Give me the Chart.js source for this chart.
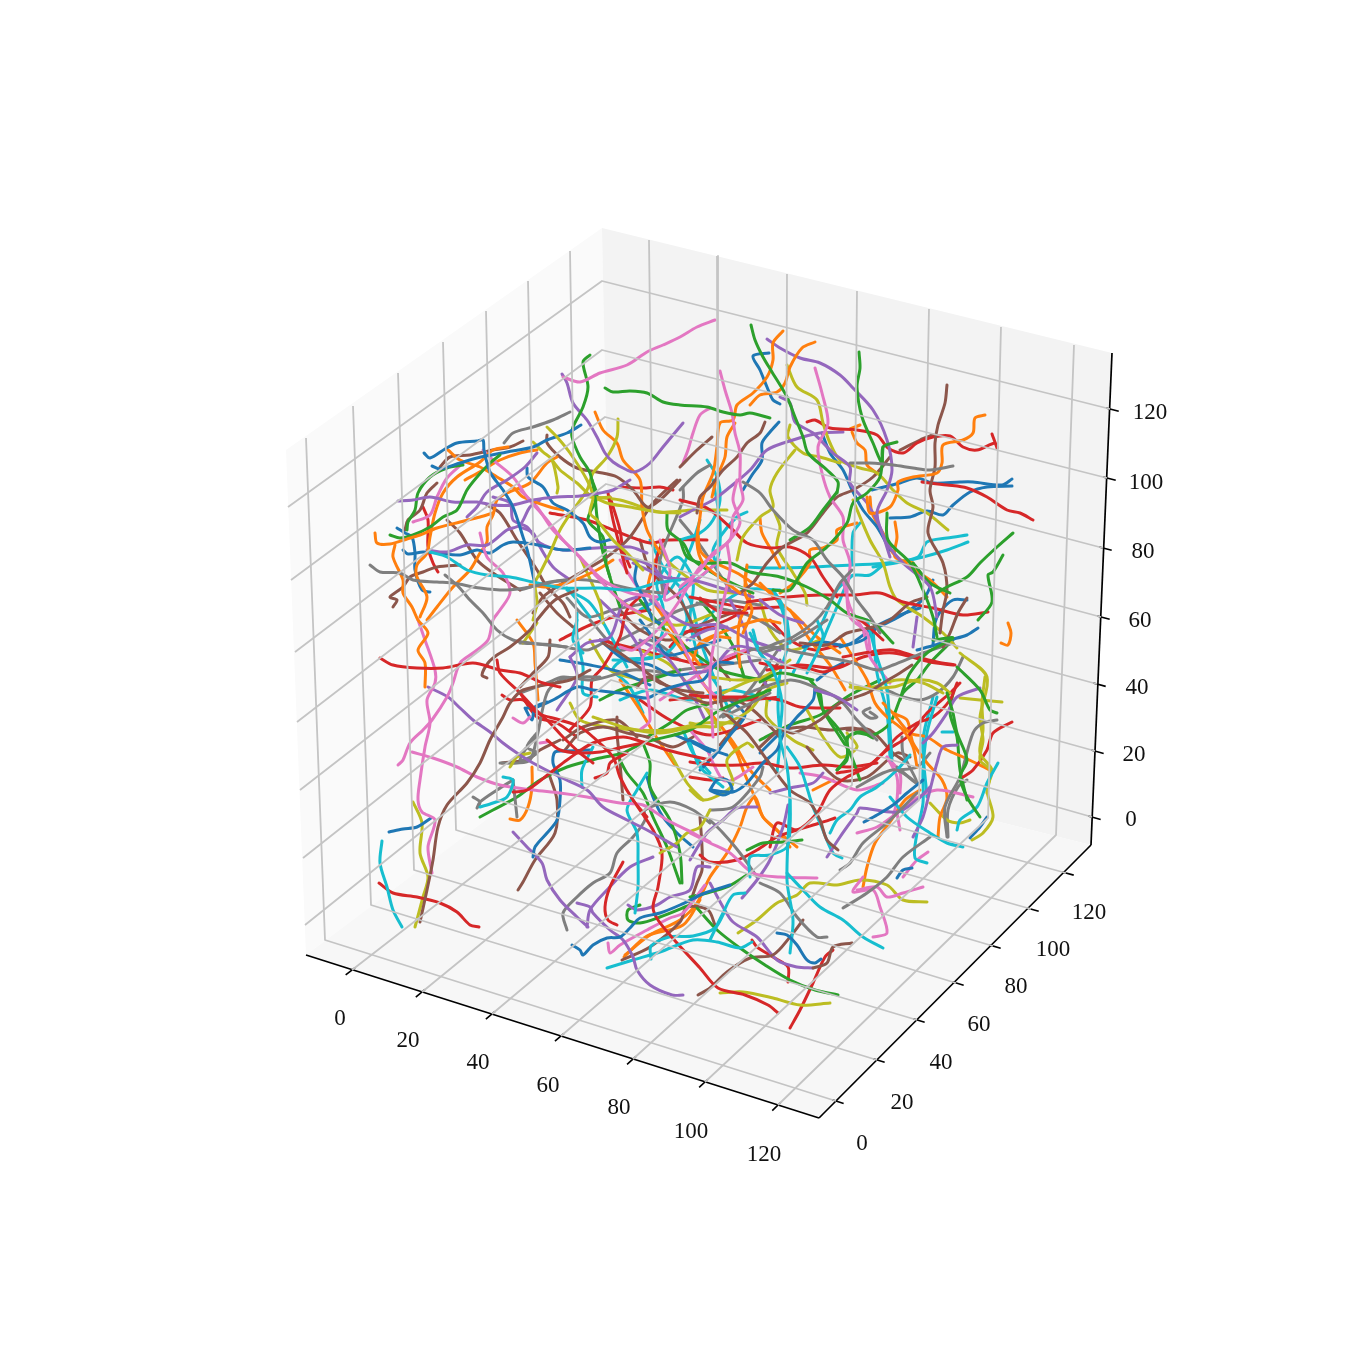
<!DOCTYPE html>
<html><head><meta charset="utf-8">
<style>html,body{margin:0;padding:0;background:#fff}canvas{display:block}</style>
<script src="https://cdn.jsdelivr.net/npm/chart.js@4/dist/chart.umd.min.js"></script>
</head><body><canvas id="c" width="1350" height="1350"></canvas>
<script>
// picture-plane readings of the projected 3D traces: flat x,y lists per colour
const blue=[
[424,453,430,458,445,449,457,443,477,441,483,440,484,450,490,472,503,490,513,507,523,537,528,553,534,580],
[432,466,440,469,460,463,477,458,507,452,533,447,547,440,567,433,581,425],
[527,468,528,477,543,487,553,503,567,510,583,523,590,537,600,542,612,539],
[397,528,405,533,412,537,415,553,415,570,422,590,430,592],
[403,550,408,554,423,552,437,553,460,555,477,550,490,553,503,545,513,542,533,544,563,550,590,548],
[389,832,403,829,417,827,431,818],
[533,857,535,847,547,833,557,820,560,800,560,780,553,763,555,752,567,751,590,750],
[572,945,580,950,583,955,593,945,607,938,620,937,630,928,640,918,660,913,680,905,705,893,730,885],
[777,933,787,935,797,945,807,960,815,963,821,959],
[897,878,903,870,912,868],
[970,838,980,827,987,817],
[864,822,877,815,893,805,907,793,923,780],
[769,353,753,356,760,370,767,387,773,400,780,404],
[779,422,770,432,762,443,762,460,752,475,743,490],
[822,433,830,453,843,470,852,490,863,510,877,527,890,550],
[1012,479,1002,485,973,482,960,482,933,483,917,478,900,483,872,490],
[1012,486,987,487,970,492,953,505,943,515,927,511,910,517,890,518],
[967,600,953,600,940,612,935,623,933,645],
[978,628,967,635,950,640,935,645,917,650],
[933,580,925,597,910,610,893,620,877,628,863,640,840,647],
[690,740,707,748,727,755],
[710,790,717,780,727,780,732,790,723,795,710,790,733,792,747,783,763,763,777,750,783,735,797,717,813,700,815,687],
[527,708,537,707,553,700,577,687,593,690,620,693,647,698,663,690,687,683,703,680,717,663,733,663],
[637,563,635,580,645,600,653,620,660,623],
[525,708,532,720,535,707,547,702],
[647,777,653,797,663,817,677,833,693,847],
[675,735,693,743,710,752],
[760,753,773,740,783,730],
[817,680,830,670,843,663],
[803,647,823,642,847,645,873,628,900,615,920,608],
[640,620,655,640,668,655,690,650,720,640],
[600,640,625,660,650,665,672,675,700,672],
[730,700,745,715,730,735,715,755,700,770],
[560,660,590,665,620,672,650,685]];
const orange=[
[375,533,377,543,390,544,407,539,420,535,437,528,460,522,480,517,493,513],
[395,545,393,557,403,580,403,593,412,607,418,620,428,633,418,650,425,663,425,687],
[508,447,493,450,480,462,457,477,443,493,435,513,430,537,427,553,417,565,417,577,427,597,420,617],
[448,450,460,460,480,467,497,477,513,487,523,497,550,507,563,510],
[537,450,520,453,500,460,483,470,465,480],
[557,457,547,463,530,483,507,493,497,500,493,515,487,527,487,542,480,553,470,570,453,587,437,607,427,620],
[595,412,603,430,617,443,623,460,640,480,642,507,647,530,660,553],
[530,585,547,587,567,583,597,570,613,560],
[783,331,773,343,773,360,767,377,753,393,737,405,733,420,720,423,717,447,713,473,703,497,700,517,697,543,703,563,723,580,740,593],
[815,342,802,348,790,367,785,383,777,392,760,395,750,405],
[735,423,727,437,725,457,717,477,712,497],
[985,415,975,418,973,433,963,440,943,445,942,463,937,473,913,477,898,482,898,490,890,507,870,513,867,497],
[852,432,857,443,865,450,867,465,877,473],
[860,425,850,429],
[870,497,872,513,883,533,893,553,910,567,930,580,947,597],
[895,522,897,537,895,557,913,563],
[1008,623,1011,633,1008,645,1001,643],
[760,518,762,533,773,553,780,567],
[825,548,810,550,810,563,795,582,780,593],
[857,523,837,530,837,540,823,548],
[747,565,745,593,752,610,743,633],
[840,637,853,657,867,680,875,703,887,717,903,730,913,747,917,767],
[893,713,910,733,927,737,947,750,963,757,990,770],
[938,837,940,817,947,798,942,780,927,763,913,743,907,720,893,713,883,703],
[863,887,867,867,875,843,890,822,905,800,920,790],
[790,847,777,830,763,817,755,797,747,807,740,827,727,853,710,877,697,903,680,920,650,935,625,955],
[510,819,520,820,528,807,532,787,532,767],
[517,620,533,643,535,663,538,700],
[698,530,700,550,710,560,737,573,753,583,773,593],
[747,567,745,580,750,597,740,620,738,640,740,667],
[667,630,687,657,703,683,717,703],
[780,623,760,620,720,633,700,643,693,660],
[760,583,777,600,793,613,817,637,840,653],
[700,647,713,637,730,638],
[727,737,737,753,743,770,753,793,763,817,780,833,797,847],
[813,790,833,780],
[624,957,647,936,683,925,700,900],
[655,560,648,590,662,615,680,640,700,665],
[620,680,640,710,655,735,675,765],
[790,610,810,640,830,665,845,690],
[700,700,720,725,735,745,750,770,770,790]];
const green=[
[390,535,400,538,413,535,430,527,443,517,457,510,467,490,477,477,490,463,500,455],
[463,465,447,468,430,477,418,493,415,510,408,522,407,530],
[590,355,583,362,588,387,583,407,573,427,572,437,580,457,590,473,595,497,597,517,603,553,610,577],
[605,388,613,392,630,391,647,393,663,402,680,405,707,407,723,412,740,415,750,413,770,418],
[751,325,755,340,763,357,772,372,787,397,795,417,803,437,808,453,827,470,838,482,837,493],
[859,352,860,368,857,387,862,417,873,443,882,463,883,447,897,442],
[883,447,880,477,867,493,853,503,847,523,827,547,807,563,790,590,773,590],
[837,492,823,510,810,527,790,540],
[1013,533,997,547,980,563,967,577,947,587,937,593],
[1003,555,993,572,988,575,992,602,978,620],
[887,513,888,540,910,563,923,590,933,617,937,637],
[913,563,930,583,950,593],
[680,540,687,557,703,563,730,563,750,572,780,577,807,587,830,600,847,613,873,623,893,643],
[933,640,953,638,927,653,910,673,903,690,900,700],
[957,667,980,690,990,710,997,713],
[947,693,953,713,957,733,967,760,960,777,967,797,980,817],
[480,817,493,810,517,797,540,780,567,767,600,758,623,753,643,743,690,730,720,710,770,690],
[640,905,628,910,628,920,640,923,660,917,690,905],
[697,908,717,930,740,948,765,965,790,980,815,990,838,995],
[747,850,763,843,783,842,802,840],
[690,897,707,893,727,887,747,875],
[620,760,627,773,643,793,653,817,667,847,680,883],
[643,743,650,763,650,787,670,820,680,853,682,883],
[810,680,820,693,823,710,840,737,850,753,860,780],
[837,770,847,757,848,737,860,732,873,738],
[760,682,780,673,813,680],
[953,693,950,713,957,737,960,770,967,800],
[592,480,597,497,588,520,603,537,607,567,620,607],
[667,513,668,530,683,543,693,560,720,577,753,593],
[817,690,823,710,837,727,847,743,847,760,837,770],
[847,737,857,733,873,735,890,723,903,693,917,680,930,663,953,640],
[713,703,687,710,670,723,647,737],
[640,600,660,625,690,650,720,670,760,680],
[760,740,790,725,820,715,850,695,880,680],
[600,700,620,690,650,680,680,670],
[700,600,720,625,735,650,745,680]];
const red=[
[380,658,393,665,417,668,443,668,473,663,500,670,520,673,543,683,560,687],
[379,883,393,893,417,897,440,903,457,912,470,925,479,927],
[497,660,500,673,520,693,533,707,550,723,563,737,580,753,593,763],
[502,695,510,700,523,700,537,713,560,720,580,727,593,737,613,757,620,777,633,800,647,817],
[513,792,527,790,550,773,567,760,593,743,623,737,643,742,667,750,710,760],
[547,740,560,750,580,753,600,752,623,747,643,743],
[623,862,610,887,605,907,608,920,617,925],
[595,778,607,773,610,763,627,753],
[633,800,653,830,662,853,658,887,653,907,658,920,677,943,700,968,718,988,745,995,768,1005,778,1013],
[620,487,643,488,660,487,673,490],
[608,493,613,520,620,547,627,573],
[423,507,428,520,428,547,433,563,438,572],
[807,422,815,420,830,428,857,430,877,435,888,448,903,453,917,443,933,437,950,436,963,447,977,450,995,443,997,448,992,434],
[922,482,947,485,967,488,987,497,1007,510,1020,513,1033,520],
[680,500,707,508,730,527,747,543,770,548,790,547,810,557,823,577,837,597],
[747,602,787,597,820,595,853,595,880,593,903,602,933,608,963,615,988,612],
[700,598,720,612,747,613],
[847,613,863,622,883,640],
[760,663,780,667,807,668,823,672,843,665],
[843,657,870,652,893,650,917,657,937,662,955,665],
[1012,722,993,733,987,750,973,770,963,777],
[960,683,950,693,927,713,907,737,887,750,867,767,837,773],
[957,683,950,700,933,717,917,723,897,737,883,753,867,767,847,777,830,790,817,813,797,830,777,823,770,847],
[835,818,820,823,797,830,777,837,757,850,737,860,710,862,700,855],
[752,940,757,947,773,957,788,967,788,982],
[790,1028,800,1010,813,983,825,957,833,950],
[690,762,713,765,740,765,763,763,790,768,823,765,850,767,877,763],
[690,695,717,697,747,697,780,700,800,707,840,708],
[767,670,800,665,837,668,863,657,893,653,930,662,953,665],
[690,777,710,780,723,778],
[550,513,587,520,613,530,650,543,667,540,707,540],
[663,540,657,557,653,583,627,610,620,637,603,667,592,680,590,707,570,730],
[610,497,620,530,623,550,630,567],
[520,693,537,717,557,723,577,737],
[690,597,720,603,747,608,780,607],
[670,647,683,633,700,630,727,620,750,607],
[670,700,700,697,747,700,780,697],
[600,640,640,650,680,660,710,665,750,650],
[640,700,670,720,710,735,760,720],
[560,640,590,625,620,615,650,610],
[770,620,790,640,815,650,840,645]];
const purple=[
[398,501,413,500,430,497,453,502,477,502,493,505,513,505,533,500,557,497,580,496,600,493,613,490,630,480],
[537,453,525,467,507,480,487,492,477,507,467,517],
[562,374,567,383,573,403,587,420,597,437,605,453,613,462,627,470,635,472,650,463,663,447,683,423],
[427,550,447,552,467,545,487,545,507,530,520,525,530,507,540,500],
[493,497,510,503,513,520,527,527,540,543,563,550,597,548,630,547,647,553],
[428,687,448,697,460,708,473,720,490,732,503,743,517,753,533,763,560,777,587,790,603,807,627,820,647,830,677,847],
[513,832,527,847,542,863,547,880,560,900,577,917,588,927],
[577,903,590,907,593,913,610,930,623,940,633,957,637,970,650,985,672,995,683,995],
[587,927,590,910,607,890,630,867,653,857],
[628,905,637,910,657,905,670,897,690,890,697,867,710,867],
[767,339,780,348,800,358,820,363,840,375,853,388,873,410,887,440,892,470,887,490,877,513,887,543,903,563,930,587,937,617],
[780,397,790,403,795,422,813,433,833,453,850,467,850,483,867,503,880,527,890,557],
[843,432,820,433,793,440,767,450,750,470,730,487,713,500,693,510,680,517],
[917,617,913,647],
[760,600,780,615,803,623],
[815,690,837,697,857,710],
[980,688,957,697,947,713,933,733,923,743],
[957,745,943,747,937,763,930,790,923,817,913,837],
[827,857,840,837,857,813,860,808,897,812,917,800,930,787],
[742,898,757,880,770,860,783,827,788,805],
[710,883,723,907,733,922,757,937,777,960,797,967,813,968],
[690,860,707,833,723,820,737,808,757,807],
[770,793,790,788,813,783,823,773],
[690,673,710,670,733,647,757,650,783,663],
[623,558,637,560,653,567,663,577,693,580,727,590,753,597],
[520,527,533,533,540,547,553,567,570,580],
[570,657,577,677,557,710],
[570,657,587,643,610,637,623,603,637,597],
[687,640,707,630,727,627],
[633,563,660,577,667,593],
[650,600,670,615,690,625,720,625,750,640,780,650],
[640,640,665,655,690,690,705,720],
[600,600,620,620,640,650,645,680],
[730,600,745,630,750,660,770,690]];
const brown=[
[420,922,427,890,433,860,438,827,447,805,467,783,480,763,490,740,503,717,510,703,523,690,570,680,590,670],
[487,678,482,675,488,663,497,655,510,647,530,630,537,620,555,600,577,590],
[393,607,397,600,390,597,403,587,410,577,423,572,437,567,460,565],
[440,467,450,457,470,455,493,450,510,447,523,441],
[437,483,427,493,420,510,408,520,405,530],
[547,435,547,443,560,457,577,468,597,472,617,477,633,490,647,507,660,500,680,480],
[712,437,697,450,680,467],
[765,422,760,433,747,443,737,457,723,470,710,487,700,497,697,513],
[487,505,500,513,517,540,537,570,547,587,563,603,570,617],
[447,520,460,533,477,560,493,573,520,590],
[677,480,653,503,630,537,607,557,580,573,563,583,543,597,533,613],
[947,385,945,403,938,425,935,443,935,467,930,490,933,507,928,533,943,563,947,590,943,610,940,633],
[900,450,920,440,933,435],
[890,457,873,477,853,490,837,497,823,513,807,533,783,547,767,563,753,583,740,593],
[967,598,958,613,950,633,943,647],
[800,643,827,645,847,633,873,627,890,620,910,603,927,597],
[760,747,780,730,793,733,820,720,840,703,867,693,883,683,900,673,912,665],
[720,687,723,710,747,733,767,760,790,790,810,803,820,820,827,840,838,850],
[698,995,710,988,727,972,750,958,773,955,790,937,803,920],
[813,968,827,963,833,947,852,943],
[518,890,523,882,535,860,555,833,557,800,550,777],
[622,960,650,947,680,922,687,907,708,910,715,925],
[540,593,557,613,573,627],
[550,640,548,657,533,673,520,687],
[603,643,620,653,653,677,680,693,707,703,733,700,753,710,780,737],
[563,740,583,727,617,720,637,737],
[565,750,580,733,603,727,627,733,647,737,673,747,693,737],
[617,717,617,733,620,763,623,800],
[637,687,647,677,660,683,680,690,703,693],
[502,763,527,760,540,750,560,740],
[700,817,702,847,702,870,697,883,690,903],
[780,730,803,727,830,730,853,728,877,735],
[807,747,820,763,840,780,867,777,897,753,910,757],
[847,730,870,730,893,753,903,760],
[640,540,650,570,680,600,700,640,730,680],
[620,610,640,630,670,640,700,625,740,610],
[780,660,760,690,740,720,720,745]];
const pink=[
[563,377,580,382,600,373,627,365,647,352,663,345,680,337,697,327,715,320],
[413,522,430,515,437,497,447,478,463,463],
[483,450,493,460,513,477,527,497,547,520,563,540,580,557,603,580,630,593,657,597],
[480,533,487,557,503,573,510,593,500,610,493,620,488,640,473,653,460,663,453,683,447,697,432,720,423,730,410,743,403,760,398,765],
[418,620,425,640,435,670,435,683,427,700,430,723,425,747,420,780,418,800,422,812,435,820,428,847,432,873],
[412,752,433,758,457,767,477,777,500,785,533,790,560,793,587,797,620,803,643,805,667,820,693,833,710,842],
[720,371,725,390,732,413,735,433,740,453,740,483,743,500,733,517,730,540,713,553,700,570,680,587],
[710,408,700,415,693,433,688,450,683,463],
[815,368,822,393,828,423,818,447,822,473,830,497,843,517,843,540,850,563,847,593,850,617,867,633,870,650],
[737,480,733,500,740,523,727,543,700,567,680,600,660,627,633,650,620,647],
[520,490,537,507,553,530,573,550,597,577,623,603,640,613],
[727,543,730,570,717,627,710,673,713,737],
[640,730,650,720,643,667,643,657,667,633],
[513,718,523,723,530,717],
[540,743,547,742],
[608,943,610,953,620,945,647,930,670,918,683,913,705,885],
[690,833,710,843,730,853,753,873,780,877,817,878],
[873,937,887,933,880,907,873,890,853,892,863,877],
[857,890,877,887,887,897,903,893,923,887],
[857,833,877,827,897,813,913,800,937,790,973,797],
[897,813,900,830],
[887,757,897,777,897,800,893,817],
[903,877,917,860,928,852],
[800,773,823,777,857,790,883,783],
[843,580,850,607,863,630,870,657,890,683],
[887,757,900,773,900,793],
[690,730,707,750,713,763,723,780,733,780,753,767],
[660,540,670,570,665,600,690,585,720,560],
[620,560,640,590,655,600,680,640,700,680,720,700],
[660,700,690,680,720,660,745,650]];
const gray=[
[370,565,380,572,400,573,413,580,437,582,453,583,480,588,507,590,530,587,553,582,567,580],
[445,575,457,585,470,600,483,613,497,630,513,640,530,643,567,647],
[504,443,513,433,533,427,553,420,570,412],
[850,463,870,463,893,465,913,468,930,470,953,466],
[743,482,760,493,773,510,793,530,813,540,827,560,843,577,857,600,870,617,880,633],
[852,570,840,583,827,607,813,623,793,637,777,643,760,650],
[710,465,697,473,680,490],
[473,797,480,802,477,808,480,802,497,790,513,780],
[513,780,517,817],
[500,763,517,763,530,760,537,737,547,693,560,680,580,677,600,677],
[520,755,533,740,537,733,527,747,537,753,520,760,535,735],
[567,930,563,913,577,897,593,883,610,873,617,853,633,837,645,820,645,810,670,802,693,810,710,823],
[760,883,780,893,797,917,817,937,827,937],
[840,870,850,863,863,843,887,823,917,793],
[843,908,867,893,887,877,903,857,930,837],
[947,837,945,807,960,777,973,733,983,723,997,720],
[857,787,883,773,897,770,917,783],
[750,650,773,647,797,652,823,657,850,662,877,670,893,665,923,653,953,643],
[760,653,780,647,800,637,827,620],
[723,717,757,700,770,693],
[747,693,790,680,817,688,840,700,857,720,877,740],
[710,810,733,807,760,777,763,767],
[710,820,723,833,740,853,757,877],
[897,767,917,783,903,753,902,737],
[930,753,917,767,897,770],
[963,657,953,677,937,693,920,700,903,697,887,690],
[870,712,877,717,870,718,863,712,870,708],
[520,590,550,582,587,580,637,590,663,593],
[663,593,660,560,683,500,683,487],
[520,643,553,645,587,650,603,643],
[520,693,547,683,563,677,593,680,633,670,660,672],
[697,603,727,610,753,617,780,633],
[720,717,747,693,780,647],
[948,837,948,810,958,787,967,780],
[567,598,587,617,613,610,647,603],
[620,640,650,625,680,610,720,600,760,605],
[640,680,680,670,720,665,760,660],
[590,620,620,650,650,640,680,660],
[680,520,700,545,730,590]];
const olive=[
[547,427,557,437,570,453,587,480,593,497,590,513,597,520,613,540,627,553,643,570],
[533,442,543,452,552,460,558,487,557,493],
[618,419,617,437,607,457,593,473,587,490,573,510,560,530,550,553,540,573,535,583,537,603,533,620],
[590,495,607,503,630,507,657,512,680,513],
[552,460,560,470,577,483,593,497,610,497],
[413,802,422,823,420,853,428,877,423,897,415,927],
[660,853,677,843,687,833,700,827,710,810],
[523,643,537,623],
[510,767,517,757,530,753],
[593,717,627,728,660,733,693,727,710,727],
[670,753,687,783,703,800],
[787,365,797,387,817,400,823,423,830,443,840,460,860,468,877,473,893,490,907,503,927,513,948,530],
[790,425,788,437,803,453,820,457,840,463],
[795,450,777,473,770,490,773,507,760,517,743,537,737,560],
[775,513,780,527,777,547,793,573,805,593,807,605],
[853,500,870,540,883,563,890,587,897,600,923,617,943,633,957,648],
[850,683,853,688,893,687,917,680,937,683,950,693],
[960,653,987,677,980,717,983,740,980,760,990,770,987,793],
[960,698,980,700,1002,702],
[985,677,982,703,983,730,980,753,992,770,987,790,993,817,983,833,972,840],
[738,933,757,920,777,903,797,895,810,883,837,885,860,880,887,885,903,900,927,902],
[720,993,743,992,773,998,800,1005,830,1003],
[690,723,713,727,733,720,750,710,767,690,787,683],
[850,687,873,687,897,680,923,683,943,693],
[690,790,703,800,723,793,733,783,727,760,747,743,753,747],
[930,803,947,820,960,823,970,820],
[807,710,823,737,840,757,857,747,847,733],
[590,497,620,500,660,512,693,510,727,510],
[570,703,580,720,607,727,637,730,670,730,703,723,733,723],
[580,557,600,603,603,623],
[660,543,667,560,687,577,707,590,733,593],
[723,693,753,680,780,680],
[710,677,737,680,763,677,790,660],
[767,700,767,717,793,740,813,750],
[620,600,650,620,680,625,710,615],
[640,650,670,665,700,700,720,730],
[760,600,770,630,790,650,820,640],
[590,640,610,670,640,680]];
const cyan=[
[382,841,380,863,387,887,393,910,402,927],
[430,552,447,557,467,570,487,575,510,577,533,582,563,588,600,588,630,590,657,583,680,580],
[567,588,577,600,590,617],
[480,807,493,803,507,797,513,780,503,777],
[577,620,573,640,583,653],
[582,787,582,770,593,747],
[647,773,637,790,627,810,637,833,638,860,638,887,635,913],
[607,968,633,960,660,952,693,940,717,942,740,948,752,942],
[651,959,651,946,669,937,693,936,715,928,725,911],
[710,940,723,913,733,895,745,893],
[750,877,750,857,770,855,787,847,790,827,790,800,787,767,780,737,782,703,773,670,760,653,750,633],
[790,953,793,920,787,880,790,800],
[787,873,803,890,820,907,843,920,863,937,883,948],
[817,620,823,637,807,673],
[787,620,790,643],
[998,763,987,783,977,807,960,820,957,830],
[890,797,907,817,930,833,947,843,963,847],
[867,620,877,657,887,690,890,730,892,760],
[937,697,927,733,923,770,923,803,917,833,915,858,927,863],
[830,833,837,820,850,810,860,797,877,787,897,770,910,755],
[787,747,800,767,813,807,820,823,833,853,842,858],
[690,743,700,767,723,787],
[967,535,947,538,927,542,918,557,887,563,853,565,813,567,773,568,747,567],
[968,542,947,550,923,557,900,562,873,567],
[860,523,853,533,852,563],
[883,565,870,575,857,575,850,577,840,600,827,630,823,640],
[773,590,783,607,787,650],
[707,460,717,477,720,500,713,520,700,533,680,540],
[747,512,737,517,723,533,713,550,717,567],
[773,590,783,613,787,647,780,673,778,707,780,740,777,773],
[873,630,877,673,887,713,890,757],
[853,575,837,590,820,627,803,653,793,673],
[933,697,923,740,927,797],
[942,732,953,732],
[613,660,637,660,667,653,687,620,680,590,700,577,717,560,720,523,713,480],
[577,613,577,637,583,667,583,693,597,697],
[567,590,590,603,613,640,627,667],
[653,657,663,630,663,607,657,583,677,557,693,580,690,620,697,653],
[753,630,760,653,773,667],
[667,653,647,658,623,660,613,670,627,683,637,700,643,713],
[683,730,693,753,710,773],
[650,540,665,570,690,600,700,640,715,680],
[700,520,690,550,670,590,640,610],
[620,700,650,690,690,700,730,690,770,700],
[690,640,715,610,745,590,780,590],
[700,660,720,690,735,725]];

const seriesLists=[blue,orange,green,red,purple,brown,pink,gray,olive,cyan];
const seriesColors=['#1f77b4','#ff7f0e','#2ca02c','#d62728','#9467bd','#8c564b','#e377c2','#7f7f7f','#bcbd22','#17becf'];

// panes
const paneLeft=[[286,450],[602,228],[612,725],[306,955]];
const paneBack=[[602,228],[1112,353],[1091,845],[612,725]];
const paneFloor=[[306,955],[612,725],[1091,845],[819,1118]];
// grid: x value lines
const xBackTop=[[649,240],[717,256],[787,274],[857,291],[929,309],[1001,327],[1074,345]];
const xBackBottom=[[655,735],[718,750],[785,768],[852,785],[919,800],[988,818],[1056,835]];
const xFront=[[352,970],[422,992],[492,1014],[561,1036],[633,1059],[705,1082],[778,1105]];
// grid: y value lines
const yLeftTop=[[306,438],[353,406],[398,373],[443,342],[486,311],[528,281],[570,251]];
const yLeftBottom=[[325,940],[371,905],[414,870],[456,830],[497,800],[538,770],[578,740]];
const yFront=[[836,1101],[877,1060],[917,1020],[956,983],[993,946],[1031,909],[1066,873]];
// grid: z value lines
const zLeft=[[305,925],[303,858],[300,790],[297,722],[295,652],[291,580],[288,507]];
const zCorner=[[611,680],[609,616],[608,551],[606,484],[605,417],[602,350],[602,281]];
const zRight=[[1092,817],[1095,751],[1097,684],[1101,617],[1103,548],[1107,478],[1110,409]];
// axes
const axisX=[[306,955],[819,1118]];
const axisY=[[819,1118],[1091,845]];
const axisZ=[[1091,845],[1112,353]];
// tick labels
const xTickLabels=['0','20','40','60','80','100','120'];
const yTickLabels=['0','20','40','60','80','100','120'];
const zTickLabels=['0','20','40','60','80','100','120'];
const xLabelAt=[[340,1019],[408,1041],[478,1063],[548,1086],[619,1108],[691,1132],[764,1155]];
const yLabelAt=[[862,1144],[902,1103],[941,1063],[979,1025],[1016,987],[1053,950],[1089,913]];
const zLabelAt=[[1131,820],[1134,755],[1137,688],[1140,621],[1143,552],[1146,483],[1150,413]];

const pts=a=>a.map(p=>({x:p[0],y:p[1]}));
const lineDs=(a,color,w,cap,t)=>({data:pts(a),borderColor:color,borderWidth:w,showLine:true,pointRadius:0,pointHoverRadius:0,tension:t||0,fill:false,borderCapStyle:cap||'butt',borderJoinStyle:'round'});
const datasets=[];
const GRID='#c4c4c4',GW=1.8;
xBackTop.forEach((p,i)=>{datasets.push(lineDs([p,xBackBottom[i],xFront[i]],GRID,GW));});
yLeftTop.forEach((p,i)=>{datasets.push(lineDs([p,yLeftBottom[i],yFront[i]],GRID,GW));});
zLeft.forEach((p,i)=>{datasets.push(lineDs([p,zCorner[i],zRight[i]],GRID,GW));});
const tick=(p,q,inn,out)=>{const dx=p[0]-q[0],dy=p[1]-q[1],l=Math.hypot(dx,dy);return [[p[0]-dx/l*inn,p[1]-dy/l*inn],[p[0]+dx/l*out,p[1]+dy/l*out]];};
const INK='#000000';
xFront.forEach((p,i)=>datasets.push(lineDs(tick(p,xBackBottom[i],4,8),INK,1.6)));
yFront.forEach((p,i)=>datasets.push(lineDs(tick(p,yLeftBottom[i],4,8),INK,1.6)));
zRight.forEach((p,i)=>datasets.push(lineDs(tick(p,zCorner[i],4,9),INK,1.6)));
datasets.push(lineDs(axisX,INK,1.7),lineDs(axisY,INK,1.7),lineDs(axisZ,INK,1.7));
// traces, round robin across colours
const maxLen=Math.max(...seriesLists.map(l=>l.length));
for(let i=0;i<maxLen;i++){seriesLists.forEach((list,c)=>{
  if(!list[i])return;const flat=list[i],d=[];for(let k=0;k<flat.length;k+=2)d.push([flat[k],flat[k+1]]);
  datasets.push(lineDs(d,seriesColors[c],3,'round',0.3));
});}

const decor={id:'decor',
 beforeDatasetsDraw(ch){const {ctx,scales:{x,y}}=ch;
  [[paneLeft,'#fafafa'],[paneBack,'#f3f3f3'],[paneFloor,'#f7f7f7']].forEach(([poly,col])=>{
   ctx.save();ctx.beginPath();poly.forEach((p,i)=>{const a=x.getPixelForValue(p[0]),b=y.getPixelForValue(p[1]);i?ctx.lineTo(a,b):ctx.moveTo(a,b);});
   ctx.closePath();ctx.fillStyle=col;ctx.fill();ctx.restore();});
 },
 afterDatasetsDraw(ch){const {ctx,scales:{x,y}}=ch;ctx.save();ctx.fillStyle='#111';ctx.font='23px "Liberation Serif"';ctx.textAlign='center';ctx.textBaseline='middle';
  [[xTickLabels,xLabelAt],[yTickLabels,yLabelAt],[zTickLabels,zLabelAt]].forEach(([t,at])=>t.forEach((s,i)=>ctx.fillText(s,x.getPixelForValue(at[i][0]),y.getPixelForValue(at[i][1]))));
  ctx.restore();}
};
new Chart(document.getElementById('c'),{type:'scatter',data:{datasets},plugins:[decor],options:{
 responsive:false,animation:false,events:[],layout:{padding:0},
 plugins:{legend:{display:false},tooltip:{enabled:false},title:{display:false}},
 scales:{x:{type:'linear',min:0,max:1350,display:false},y:{type:'linear',min:0,max:1350,reverse:true,display:false}}
}});
</script></body></html>
